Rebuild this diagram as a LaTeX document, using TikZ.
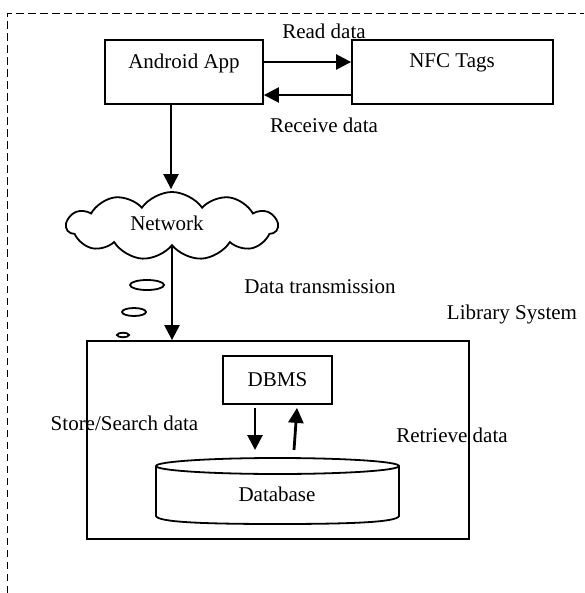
\documentclass[tikz,border=0pt]{standalone}
\usepackage{fontspec}
\setmainfont{Liberation Serif}
\usetikzlibrary{shapes.symbols, arrows.meta}
\begin{document}
\begin{tikzpicture}[x=1pt, y=-1pt,
  box/.style={draw, line width=1.8pt, inner sep=0pt},
  lbl/.style={font=\fontsize{21}{25}\selectfont, inner sep=0pt},
  flow/.style={line width=2.4pt, -{Triangle[length=15pt, width=15pt]}},
  thickflow/.style={line width=2.8pt, -{Triangle[length=15pt, width=15pt]}},
  bubble/.style={draw, line width=1.8pt},
]
\useasboundingbox (0,0) rectangle (584,593);

% outer dashed frame (runs off the right and bottom edges)
\draw[line width=1.8pt, dash pattern=on 7.5pt off 4.5pt] (7.5,593) -- (7.5,13.5) -- (584,13.5);

% phone and tags
\node[box, minimum width=158pt, minimum height=64pt] (app) at (184,72) {};
\node[lbl] (apptext) at (184,63) {Android App};
\node[box, minimum width=201pt, minimum height=64pt] (nfc) at (452.5,72) {};
\node[lbl] (nfctext) at (452,63) {NFC Tags};

\draw[flow] ([yshift=10pt]app.east) -- ([yshift=10pt]nfc.west);
\draw[flow] ([yshift=-23pt]nfc.west) -- ([yshift=-23pt]app.east);
\node[lbl] (readlbl) at (324,31) {Read data};
\node[lbl] (recvlbl) at (324,125) {Receive data};

% network cloud
\node[cloud, draw, line width=1.8pt, cloud puffs=11, cloud puff arc=110, aspect=3,
      minimum width=211pt, minimum height=68pt, inner sep=0pt] (net) at (172,226) {};
\node[lbl] (nettext) at (167,223) {Network};
\draw[flow] ([xshift=-13pt]app.south) -- ([xshift=-1pt,yshift=2pt]net.north);

% thought bubbles
\draw[bubble] (147,285) ellipse [x radius=17pt, y radius=5pt];
\draw[bubble] (134,312) ellipse [x radius=12pt, y radius=4pt];
\draw[bubble] (123,335) ellipse [x radius=6pt, y radius=2.2pt];

% library system
\node[box, minimum width=382pt, minimum height=198pt] (lib) at (278,440) {};
\draw[flow] (net.south) -- (net.south |- lib.north);
\node[lbl] (translbl) at (320,287) {Data transmission};
\node[lbl] (liblbl) at (512,314) {Library System};

\node[box, lbl, minimum width=109pt, minimum height=48pt] (dbms) at (277.5,380) {DBMS};

% database cylinder
\coordinate (dbtop) at (277.5,458);
\draw[line width=1.8pt] (277.5,466) ellipse [x radius=121.5pt, y radius=8pt];
\draw[line width=1.8pt] (156,466) -- (156,516)
  .. controls (158,522) and (200,524) .. (277.5,524)
  .. controls (355,524) and (397,522) .. (399,516) -- (399,466);
\node[lbl] (dbtext) at (277,494) {Database};

\draw[thickflow] ([xshift=-22.5pt,yshift=-3pt]dbms.south) -- ([xshift=-22.5pt,yshift=8pt]dbtop);
\draw[thickflow] ([xshift=16.5pt,yshift=8pt]dbtop) -- ([xshift=19.5pt,yshift=-3pt]dbms.south);

\node[lbl] (storelbl) at (124.5,423) {Store/Search data};
\node[lbl] (retrlbl) at (452,435) {Retrieve data};
\end{tikzpicture}
\end{document}
